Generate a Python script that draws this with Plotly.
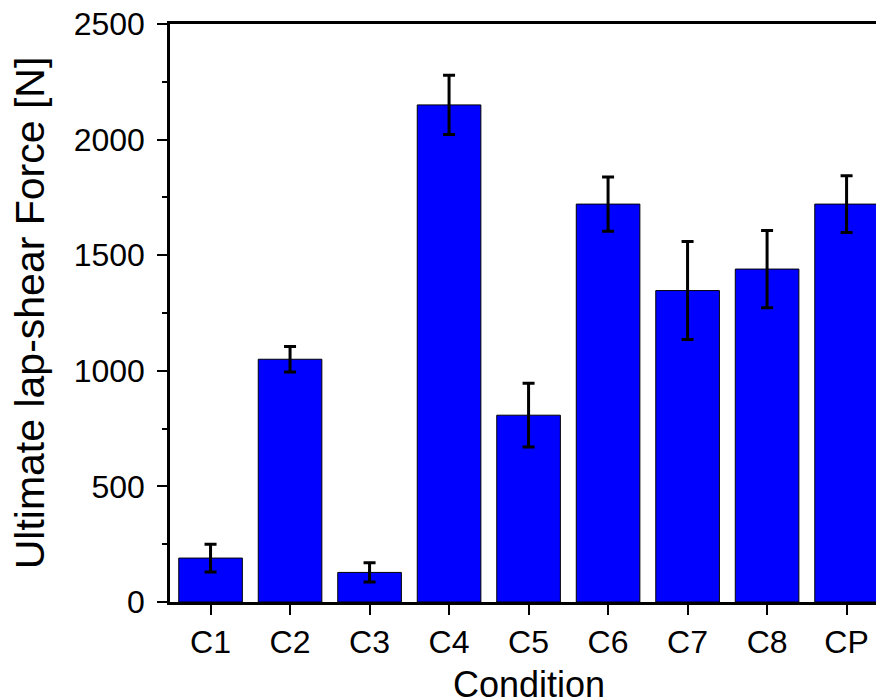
import plotly.graph_objects as go

categories = ["C1", "C2", "C3", "C4", "C5", "C6", "C7", "C8", "CP"]
force_mean = [190, 1050, 128, 2150, 808, 1721, 1347, 1440, 1721]
force_err = [60, 55, 42, 128, 138, 117, 212, 167, 123]

FONT = "Liberation Sans, Arial, sans-serif"

fig = go.Figure()
fig.add_trace(go.Bar(
    x=categories,
    y=force_mean,
    marker=dict(color="#0000FF", line=dict(color="black", width=1)),
    error_y=dict(type="data", array=force_err, visible=True,
                 color="black", thickness=3, width=6),
    width=0.8,
))

fig.update_layout(
    width=876, height=700,
    margin=dict(l=170, r=0, t=24, b=98),
    paper_bgcolor="white", plot_bgcolor="white",
    showlegend=False,
    font=dict(family=FONT, color="black"),
    annotations=[dict(
        text="Condition", xref="x", yref="paper",
        x=4, y=-0.142, xanchor="center", yanchor="middle",
        showarrow=False, font=dict(size=36, family=FONT, color="black"),
    )],
)
fig.update_xaxes(
    range=[-0.51, 8.37],
    showline=True, linecolor="black", linewidth=2.5, mirror=True,
    ticks="outside", ticklen=10, tickwidth=2, tickcolor="black",
    tickfont=dict(size=32, family=FONT),
    showgrid=False, zeroline=False,
)
fig.update_yaxes(
    range=[0, 2500],
    tickvals=[0, 500, 1000, 1500, 2000, 2500],
    showline=True, linecolor="black", linewidth=2.5, mirror=False,
    ticks="outside", ticklen=10, tickwidth=2, tickcolor="black",
    minor=dict(ticks="outside", ticklen=5, tickwidth=2, tickcolor="black",
               tickvals=[250, 750, 1250, 1750, 2250]),
    tickfont=dict(size=32, family=FONT),
    ticklabelstandoff=6,
    title=dict(text="Ultimate lap-shear Force [N]", font=dict(size=41, family=FONT), standoff=17),
    showgrid=False, zeroline=False,
)

fig.write_html("out.html", config={"displayModeBar": False})

# remove the default page margin so the figure sits at the window's corner
with open("out.html", "r", encoding="utf-8") as f:
    html = f.read()
html = html.replace("<head>", "<head><style>html,body{margin:0;padding:0;overflow:hidden;}</style>", 1)
with open("out.html", "w", encoding="utf-8") as f:
    f.write(html)
